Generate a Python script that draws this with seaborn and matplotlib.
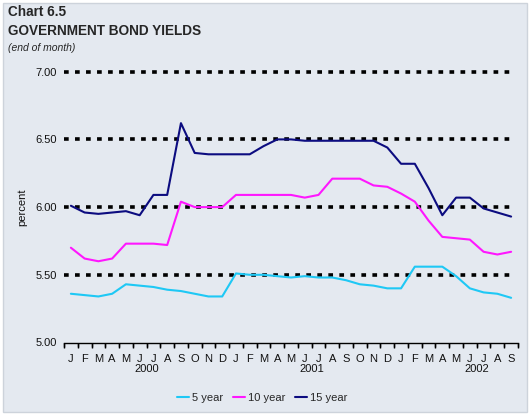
import matplotlib
matplotlib.use("Agg")
import matplotlib.pyplot as plt
from matplotlib.patches import Rectangle
from matplotlib.transforms import blended_transform_factory
import seaborn as sns
import pandas as pd

# ---- data ----
month_labels = ["J", "F", "M", "A", "M", "J", "J", "A", "S", "O", "N", "D"] * 2 + \
               ["J", "F", "M", "A", "M", "J", "J", "A", "S"]
years = ["2000", "2001", "2002"]
year_pos = [5.5, 17.5, 29.5]   # centred between June and July

yield_5 = [5.36, 5.35, 5.34, 5.36, 5.43, 5.42, 5.41, 5.39, 5.38, 5.36, 5.34, 5.34,
           5.51, 5.50, 5.50, 5.49, 5.48, 5.49, 5.48, 5.48, 5.46, 5.43, 5.42, 5.40,
           5.40, 5.56, 5.56, 5.56, 5.49, 5.40, 5.37, 5.36, 5.33]
yield_10 = [5.70, 5.62, 5.60, 5.62, 5.73, 5.73, 5.73, 5.72, 6.04, 6.00, 6.00, 6.00,
            6.09, 6.09, 6.09, 6.09, 6.09, 6.07, 6.09, 6.21, 6.21, 6.21, 6.16, 6.15,
            6.10, 6.04, 5.90, 5.78, 5.77, 5.76, 5.67, 5.65, 5.67]
yield_15 = [6.01, 5.96, 5.95, 5.96, 5.97, 5.94, 6.09, 6.09, 6.62, 6.40, 6.39, 6.39,
            6.39, 6.39, 6.45, 6.50, 6.50, 6.49, 6.49, 6.49, 6.49, 6.49, 6.49, 6.44,
            6.32, 6.32, 6.14, 5.94, 6.07, 6.07, 5.99, 5.96, 5.93]
series_names = ["5 year", "10 year", "15 year"]
series_colors = ["#1ec8f5", "#ff17ff", "#0c0c80"]
y_ticks = [5.00, 5.50, 6.00, 6.50, 7.00]

# ---- long table ----
n = len(month_labels)
df = pd.DataFrame({
    "idx": list(range(n)) * 3,
    "value": yield_5 + yield_10 + yield_15,
    "series": [series_names[0]] * n + [series_names[1]] * n + [series_names[2]] * n,
})

sns.set_theme(style="white")
plt.rcParams["font.family"] = ["Liberation Sans", "DejaVu Sans"]

W, H = 529, 416
fig = plt.figure(figsize=(W / 100, H / 100), dpi=100, facecolor="white")
bg = "#e4e9f0"
fig.patches.append(Rectangle((3 / W, 4 / H), 524 / W, 409 / H, transform=fig.transFigure,
                             facecolor=bg, edgecolor="#cdd3db", linewidth=1.0, zorder=-10))

ax = fig.add_axes([64 / W, 1 - 342.5 / H, 454 / W, 270.8 / H])
ax.set_facecolor("none")

sns.lineplot(data=df, x="idx", y="value", hue="series", hue_order=series_names,
             palette=series_colors, linewidth=1.5, ax=ax, zorder=3)

ax.set_xlim(-0.5, n - 0.5)
ax.set_ylim(y_ticks[0], y_ticks[-1])

for yv in y_ticks[1:]:
    ax.axhline(yv, xmin=0, xmax=0.99, color="black", linewidth=2.6,
               linestyle=(0, (1.3, 1.75)), dash_capstyle="butt", zorder=1, clip_on=False)

for s in ["top", "right", "left"]:
    ax.spines[s].set_visible(False)
ax.spines["bottom"].set_color("black")
ax.spines["bottom"].set_linewidth(1.0)

ax.set_yticks(y_ticks)
ax.set_yticklabels([f"{v:.2f}" for v in y_ticks], fontsize=8, color="#111111")
ax.tick_params(axis="y", length=0, pad=5)

# month boundaries: major ticks (marks, no labels)
boundaries = [i - 0.5 for i in range(n + 1)]
ax.set_xticks(boundaries)
ax.set_xticklabels([""] * (n + 1))
ax.tick_params(axis="x", which="major", bottom=True, length=3.5, width=1.0,
               direction="out", color="black")
trans = blended_transform_factory(ax.transData, ax.transAxes)
ax.vlines(boundaries, -0.016, 0, transform=trans, colors="black", linewidth=1.0, clip_on=False)
# month centres: minor ticks carry the month letters
ax.set_xticks(range(n), minor=True)
ax.set_xticklabels(month_labels, minor=True, fontsize=8, color="#111111")
ax.tick_params(axis="x", which="minor", bottom=True, length=0, pad=8)

for yr, xp in zip(years, year_pos):
    ax.text(xp, -0.098, yr, transform=trans, ha="center", va="center", fontsize=8, color="#111111")

ax.set_xlabel("")
ax.set_ylabel("percent", fontsize=8, color="#111111", labelpad=6)

sns.move_legend(ax, "center", bbox_to_anchor=(262 / W, 1 - 398 / H), bbox_transform=fig.transFigure,
                ncol=3, frameon=False, title=None, fontsize=8, handlelength=1.1,
                handletextpad=0.25, columnspacing=0.9)

fig.text(8 / W, 1 - 12 / H, "Chart 6.5", fontsize=9.8, fontweight="bold", ha="left", va="center")
fig.text(8 / W, 1 - 31 / H, "GOVERNMENT BOND YIELDS", fontsize=9.8, fontweight="bold",
         ha="left", va="center")
fig.text(8 / W, 1 - 48 / H, "(end of month)", fontsize=7.5, style="italic", ha="left", va="center")

fig.savefig("out.png", dpi=100, facecolor="white")
